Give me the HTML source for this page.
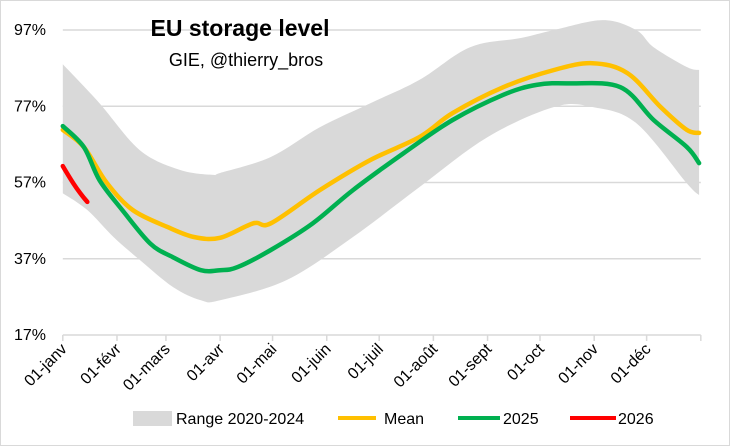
<!DOCTYPE html>
<html><head><meta charset="utf-8"><style>
body{margin:0;background:#fff;}
svg{display:block;font-family:"Liberation Sans",Calibri,sans-serif;}
</style></head><body>
<svg id="c" width="730" height="446" viewBox="0 0 730 446">
<rect x="0.5" y="0.5" width="729" height="445" fill="#fff" stroke="#d9d9d9"/>
<g id="grid"></g>
<g id="plot"></g>
<g id="axes"></g>
<text x="240" y="36" text-anchor="middle" font-size="23" font-weight="bold" fill="#000">EU storage level</text>
<text x="246" y="66" text-anchor="middle" font-size="18" fill="#000">GIE, @thierry_bros</text>
<g>
<g><rect x="133" y="411" width="39" height="15" fill="#d9d9d9"/><text x="176" y="424" font-size="16">Range 2020-2024</text></g>
<g><line x1="338" y1="418" x2="376" y2="418" stroke="#ffc000" stroke-width="4"/><text x="384" y="424" font-size="16">Mean</text></g>
<g><line x1="458" y1="418" x2="500" y2="418" stroke="#00b050" stroke-width="4"/><text x="503" y="424" font-size="16">2025</text></g>
<g><line x1="570" y1="418" x2="616" y2="418" stroke="#ff0000" stroke-width="4"/><text x="618" y="424" font-size="16">2026</text></g>
</g>
</svg>
<script>
const yTicks=[17,37,57,77,97];
const monthLabels=["01-janv","01-févr","01-mars","01-avr","01-mai","01-juin","01-juil","01-août","01-sept","01-oct","01-nov","01-déc"];
const monthDays=[0,31,59,90,120,151,181,212,243,273,304,334];
const upperDays=[0,21,44,67,86,90,119,147,176,204,233,262,281,309,328,338,357,364];
const upperVals=[88,77.8,65.5,60.3,59,59.5,63.7,71.5,77.8,83.9,92.5,94.9,97,99.6,97,92.5,87.3,86.5];
const lowerDays=[0,14,29,44,63,79,90,128,166,204,243,281,303,328,357,364];
const lowerVals=[54.2,49.8,42.7,36.7,29.6,26.1,26.1,31.4,42.7,55.8,68.9,76.8,76.8,72.6,56.8,53.7];
const meanDays=[0,12,25,40,60,75,90,109,119,147,176,204,223,252,281,303,323,342,357,364];
const meanVals=[70.8,66.3,57,49.8,45.3,42.7,42.5,46.3,46.3,55,62.9,68.9,75.2,82,86.5,88.3,85.7,76.8,70.8,70];
const y25Days=[0,12,21,34,50,63,79,90,100,119,143,166,195,223,252,271,290,319,338,357,364];
const y25Vals=[71.8,66.3,57.6,49.8,41,37.4,34,34,34.8,39.3,46.3,55,64.7,73.4,80,82.6,83,82,73.4,66.3,62.1];
const y26Days=[0,6,10,14];
const y26Vals=[61.3,56.8,54.2,51.9];

const X0=62.8,XD=1.748,Y0=335,YP=3.8125;
const xs=d=>X0+d*XD;
const ys=v=>Y0-(v-17)*YP;
const NS="http://www.w3.org/2000/svg";
function mk(t,a,p){const e=document.createElementNS(NS,t);for(const k in a)e.setAttribute(k,a[k]);p.appendChild(e);return e;}
const grid=document.getElementById('grid'),plot=document.getElementById('plot'),axes=document.getElementById('axes');
yTicks.forEach(v=>{
  if(v>17){const g=mk('line',{x1:xs(0),x2:xs(365),y1:ys(v),y2:ys(v),stroke:'#d9d9d9','stroke-width':1.5},grid);
  
  }
  const t=mk('text',{x:46,y:ys(v)+5,'text-anchor':'end','font-size':16},axes);t.textContent=v+'%';
  
  
});
function pts(d,v){return d.map((x,i)=>[xs(x),ys(v[i])]);}
function smooth(p){
  let s='M'+p[0][0].toFixed(1)+','+p[0][1].toFixed(1);
  for(let i=0;i<p.length-1;i++){
    const p0=p[Math.max(0,i-1)],p1=p[i],p2=p[i+1],p3=p[Math.min(p.length-1,i+2)];
    const c1=[p1[0]+(p2[0]-p0[0])/6,p1[1]+(p2[1]-p0[1])/6],c2=[p2[0]-(p3[0]-p1[0])/6,p2[1]-(p3[1]-p1[1])/6];
    s+=' C'+c1.map(n=>n.toFixed(1)).join(',')+' '+c2.map(n=>n.toFixed(1)).join(',')+' '+p2[0].toFixed(1)+','+p2[1].toFixed(1);
  }
  return s;
}
const up=pts(upperDays,upperVals),lo=pts(lowerDays,lowerVals).reverse();
const bandD=smooth(up)+' L'+smooth(lo).slice(1)+' Z';
const band=mk('path',{d:bandD,fill:'#d9d9d9'},plot);


[[meanDays,meanVals,'#ffc000','mean-line'],[y25Days,y25Vals,'#00b050','line-2025'],[y26Days,y26Vals,'#ff0000','line-2026']].forEach(s=>{
  const l=mk('path',{d:smooth(pts(s[0],s[1])),fill:'none',stroke:s[2],'stroke-width':4.5,'stroke-linejoin':'round','stroke-linecap':'round'},plot);
  
  
});
const ax=mk('line',{x1:xs(0),x2:xs(365),y1:Y0,y2:Y0,stroke:'#d9d9d9','stroke-width':1.5},axes);


monthDays.concat([365]).forEach(d=>{mk('line',{x1:xs(d),x2:xs(d),y1:Y0,y2:Y0+6,stroke:'#d9d9d9','stroke-width':1.5},axes);});
monthLabels.forEach((m,i)=>{
  const x=xs(monthDays[i])+5,y=Y0+15;
  const t=mk('text',{x:x,y:y,'text-anchor':'end','font-size':16,transform:`rotate(-45 ${x} ${y})`},axes);
  t.textContent=m;
  
  
});
</script>
</body></html>
